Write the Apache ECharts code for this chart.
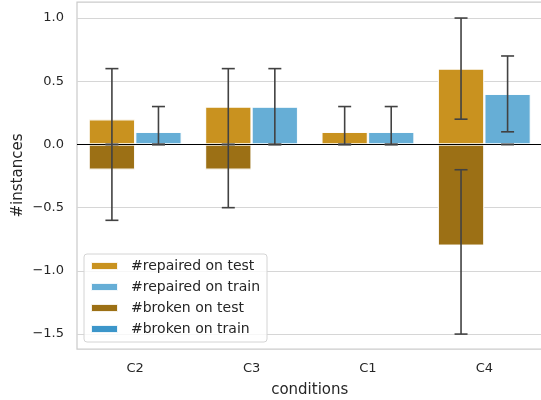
<!DOCTYPE html>
<html>
<head>
<meta charset="utf-8">
<script src="https://cdn.jsdelivr.net/npm/echarts@6/dist/echarts.min.js"></script>
<style>html,body{margin:0;padding:0;background:#fff;}#chart{width:541px;height:400px;}</style>
</head>
<body>
<div id="chart"></div>
<script>
const categories = ['C2', 'C3', 'C1', 'C4'];
const yTicks = [-1.5, -1.0, -0.5, 0.0, 0.5, 1.0];

const repairedTest = [0.2, 0.3, 0.1, 0.6];
const repairedTrain = [0.1, 0.3, 0.1, 0.4];
const brokenTest = [-0.2, -0.2, 0.0, -0.8];
const brokenTrain = [0.0, 0.0, 0.0, 0.0];

const repairedTestLow = [0.0, 0.0, 0.0, 0.2];
const repairedTestHigh = [0.6, 0.6, 0.3, 1.0];
const repairedTrainLow = [0.0, 0.0, 0.0, 0.1];
const repairedTrainHigh = [0.3, 0.6, 0.3, 0.7];
const brokenTestLow = [-0.6, -0.5, 0.0, -1.5];
const brokenTestHigh = [0.0, 0.0, 0.0, -0.2];
const brokenTrainLow = [0.0, 0.0, 0.0, 0.0];
const brokenTrainHigh = [0.0, 0.0, 0.0, 0.0];

const FONT = 'DejaVu Sans';
const TXT = '#262626';
const C_RT = '#C9921F', C_RTR = '#66AED6', C_BT = '#9C7015', C_BTR = '#3C96CA';

function barSeries(name, data, stack, color) {
  return {
    name: name, type: 'bar', stack: stack, data: data,
    barCategoryGap: '20%', barGap: '0%',
    itemStyle: { color: color, borderColor: 'rgba(255,255,255,0.9)', borderWidth: 1.2 },
    emphasis: { disabled: true }, z: 2
  };
}

function errSeries(low, high, side) {
  return {
    type: 'custom', silent: true, z: 5,
    data: categories.map((c, i) => [i, low[i], high[i]]),
    encode: { x: 0, y: [1, 2] },
    renderItem: function (params, api) {
      const i = api.value(0);
      const band = api.size([1, 0])[0];
      const bw = band * 0.8 / 2;
      const x = api.coord([i, 0])[0] + side * bw / 2;
      const y1 = api.coord([i, api.value(1)])[1];
      const y2 = api.coord([i, api.value(2)])[1];
      const cw = 6.5;
      const st = { stroke: '#424242', lineWidth: 1.6 };
      return {
        type: 'group',
        children: [
          { type: 'line', shape: { x1: x, y1: y1, x2: x, y2: y2 }, style: st },
          { type: 'line', shape: { x1: x - cw, y1: y1, x2: x + cw, y2: y1 }, style: st },
          { type: 'line', shape: { x1: x - cw, y1: y2, x2: x + cw, y2: y2 }, style: st }
        ]
      };
    }
  };
}

const chart = echarts.init(document.getElementById('chart'));
const series = [
  barSeries('#repaired on test', repairedTest, 'test', C_RT),
  barSeries('#repaired on train', repairedTrain, 'train', C_RTR),
  barSeries('#broken on test', brokenTest, 'test', C_BT),
  barSeries('#broken on train', brokenTrain, 'train', C_BTR),
  errSeries(repairedTestLow, repairedTestHigh, -1),
  errSeries(brokenTestLow, brokenTestHigh, -1),
  errSeries(repairedTrainLow, repairedTrainHigh, 1),
  errSeries(brokenTrainLow, brokenTrainHigh, 1)
];
series[0].markLine = {
  silent: true, symbol: 'none', label: { show: false },
  lineStyle: { color: '#000', type: 'solid', width: 1.1 },
  data: [{ yAxis: 0 }], z: 4
};

chart.setOption({
  animation: false,
  textStyle: { fontFamily: FONT },
  grid: {
    left: 77, right: -1.5, top: 2, bottom: 51,
    outerBoundsMode: 'none', containLabel: false,
    show: true, borderColor: '#cccccc', borderWidth: 1.25, backgroundColor: 'transparent'
  },
  legend: {
    orient: 'vertical', left: 84, top: 254,
    padding: [4, 7, 5, 6], itemGap: 5,
    itemWidth: 27, itemHeight: 8, icon: 'rect',
    backgroundColor: 'rgba(255,255,255,0.8)', borderColor: '#d4d4d4', borderWidth: 1, borderRadius: 3,
    textStyle: { fontFamily: FONT, fontSize: 14, color: TXT, lineHeight: 16, padding: [0, 0, 0, 8] },
    data: ['#repaired on test', '#repaired on train', '#broken on test', '#broken on train']
  },
  xAxis: {
    type: 'category', data: categories,
    name: 'conditions', nameLocation: 'middle', nameGap: 34, nameMoveOverlap: false,
    nameTextStyle: { fontFamily: FONT, fontSize: 15, color: TXT },
    axisLine: { show: false }, axisTick: { show: false },
    axisLabel: { fontFamily: FONT, fontSize: 13, color: TXT, margin: 13 },
    splitLine: { show: false }
  },
  yAxis: {
    type: 'value', min: -1.618, max: 1.127,
    name: '#instances', nameLocation: 'middle', nameGap: 51, nameRotate: 90, nameMoveOverlap: false,
    nameTextStyle: { fontFamily: FONT, fontSize: 15, color: TXT },
    axisLine: { show: false },
    axisTick: { show: false, customValues: yTicks },
    axisLabel: {
      customValues: yTicks, fontFamily: FONT, fontSize: 13, color: TXT, margin: 13,
      formatter: v => v.toFixed(1).replace('-', '\u2212')
    },
    splitLine: { show: true, lineStyle: { color: '#d6d6d6', width: 1 } }
  },
  series: series
});
</script>
</body>
</html>
